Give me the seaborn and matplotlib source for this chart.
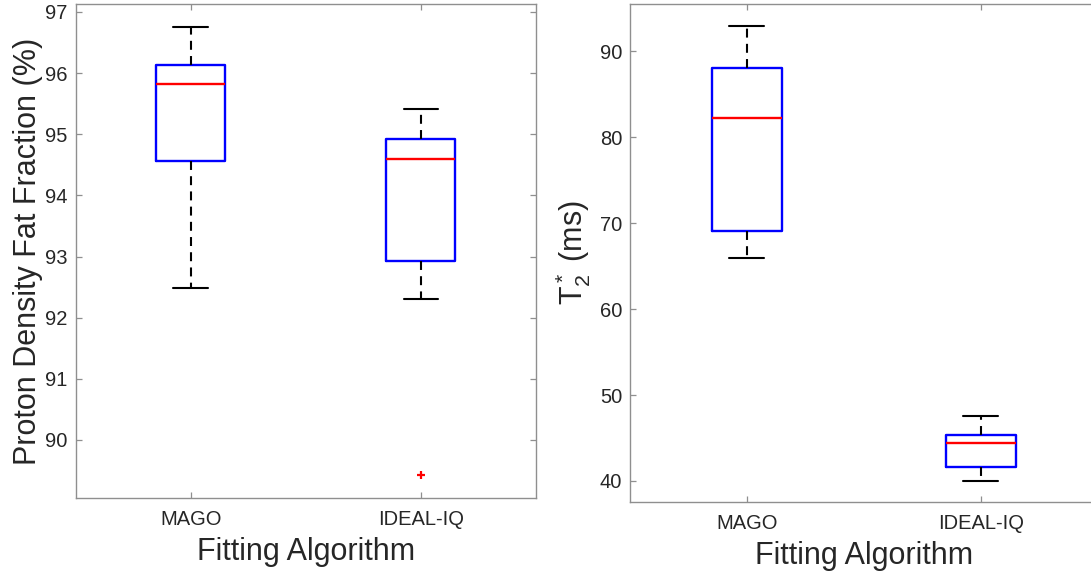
import matplotlib
matplotlib.use("Agg")
import matplotlib.pyplot as plt
import seaborn as sns
import pandas as pd

# Fitting methods compared
algorithms = ["MAGO", "IDEAL-IQ"]

# Proton density fat fraction (%) box statistics per method
pdff_low = [92.48, 92.31]
pdff_q1 = [94.57, 92.93]
pdff_median = [95.82, 94.59]
pdff_q3 = [96.13, 94.92]
pdff_high = [96.76, 95.41]
pdff_outlier_alg = ["IDEAL-IQ"]
pdff_outlier_val = [89.42]

# T2* (ms) box statistics per method
t2_low = [65.9, 40.04]
t2_q1 = [69.03, 41.65]
t2_median = [82.23, 44.47]
t2_q3 = [88.0, 45.37]
t2_high = [92.9, 47.6]

pdff_ticks = [90, 91, 92, 93, 94, 95, 96, 97]
t2_ticks = [40, 50, 60, 70, 80, 90]


def summary_frame(low, q1, med, q3, high):
    rows = []
    for i, alg in enumerate(algorithms):
        for v in (low[i], q1[i], med[i], q3[i], high[i]):
            rows.append({"Fitting Algorithm": alg, "value": v})
    return pd.DataFrame(rows)


sns.set_theme(style="white")
plt.rcParams["font.family"] = ["Liberation Sans", "DejaVu Sans"]
plt.rcParams["mathtext.fontset"] = "custom"
plt.rcParams["mathtext.rm"] = "Liberation Sans"
plt.rcParams["mathtext.it"] = "Liberation Sans"

AX_GRAY = "#8f8f8f"
TXT = "#262626"
DASH = (0, (4.3, 3.0))

fig = plt.figure(figsize=(10.91, 5.75), dpi=100)
W, H = 1091.0, 575.0
ax1 = fig.add_axes([75.5 / W, (H - 498) / H, 460.5 / W, 494 / H])
ax2 = fig.add_axes([630 / W, (H - 502) / H, 467.5 / W, 498 / H])

box_kw = dict(
    x="Fitting Algorithm", y="value", order=algorithms,
    whis=(0, 100), width=0.3, fill=False, linewidth=1.7,
    boxprops=dict(color="#0000ff"),
    medianprops=dict(color="#ff0000"),
    whiskerprops=dict(color="black", linestyle=DASH, linewidth=1.5),
    capprops=dict(color="black", linewidth=1.5),
    showfliers=False,
)

sns.boxplot(data=summary_frame(pdff_low, pdff_q1, pdff_median, pdff_q3, pdff_high),
            ax=ax1, **box_kw)
sns.stripplot(x=pdff_outlier_alg, y=pdff_outlier_val, order=algorithms, ax=ax1,
              jitter=False, marker="+", size=6, color="#ff0000",
              edgecolor="#ff0000", linewidth=1.6, zorder=3)
sns.boxplot(data=summary_frame(t2_low, t2_q1, t2_median, t2_q3, t2_high),
            ax=ax2, **box_kw)

ax1.set_ylim(89.05, 97.13)
ax1.set_yticks(pdff_ticks)
ax2.set_ylim(37.55, 95.5)
ax2.set_yticks(t2_ticks)

for ax in (ax1, ax2):
    ax.set_xlim(-0.5, 1.5)
    ax.set_xticks(range(len(algorithms)))
    ax.set_xticklabels(algorithms)
    for sp in ax.spines.values():
        sp.set_visible(True)
        sp.set_color(AX_GRAY)
        sp.set_linewidth(1.0)
    ax.tick_params(axis="both", which="both", direction="in", length=4.5,
                   width=0.9, color=AX_GRAY, labelcolor=TXT, labelsize=14.5,
                   top=True, right=True, bottom=True, left=True)
    ax.tick_params(axis="y", pad=5.5)
    ax.tick_params(axis="x", pad=8.5)
    ax.set_xlabel("Fitting Algorithm", fontsize=22, color=TXT, labelpad=6)

ax1.set_ylabel("Proton Density Fat Fraction (%)", fontsize=22, color=TXT,
               labelpad=2)
ax2.set_ylabel(r"$\mathregular{T_2^*}$ (ms)", fontsize=22, color=TXT,
               labelpad=5)

fig.savefig("out.png", dpi=100)
